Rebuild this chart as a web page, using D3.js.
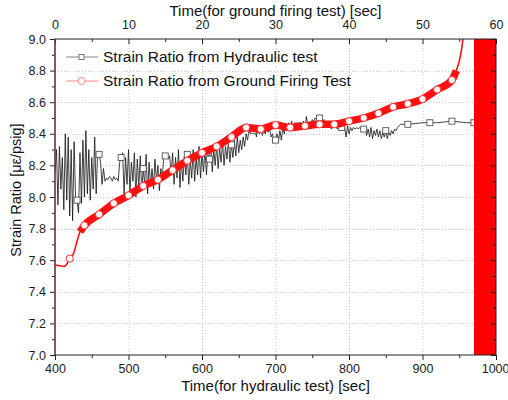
<!DOCTYPE html>
<html lang="en">
<head>
  <meta charset="UTF-8">
  <title>Strain Ratio</title>
  <script src="https://d3js.org/d3.v7.min.js"></script>
  <style>
    body { margin: 0; background: white; }
    svg { display: block; font-family: 'Liberation Sans', Arial, sans-serif; }
  </style>
</head>
<body>
  <div id="chart"></div>
  <script>
    // hydraulic test: noisy section sampled every 2 s from 400 s to 870 s
    const hydStart = 400, hydStep = 2;
    const hydNoisy = [
      8.15, 8.30, 7.95, 8.32, 8.05, 8.25, 7.92, 8.40, 7.98, 8.38,
      7.88, 8.30, 7.85, 8.35, 7.98, 7.98, 7.90, 8.28, 7.96, 8.36,
      8.00, 8.42, 8.02, 8.30, 7.98, 8.25, 8.05, 8.38, 8.02, 8.28,
      8.27, 8.22, 8.08, 8.18, 8.10, 8.12, 8.11, 8.13, 8.12, 8.10,
      8.13, 8.11, 8.12, 8.10, 8.22, 8.25, 8.28, 8.02, 8.25, 8.08,
      8.30, 8.03, 8.22, 8.10, 8.28, 8.00, 8.24, 8.06, 8.26, 8.04,
      8.18, 8.08, 8.27, 8.02, 8.22, 8.07, 8.18, 8.05, 8.24, 8.10,
      8.20, 8.04, 8.18, 8.12, 8.26, 8.26, 8.27, 8.24, 8.26, 8.14,
      8.28, 8.08, 8.25, 8.12, 8.30, 8.06, 8.22, 8.10, 8.26, 8.14,
      8.27, 8.08, 8.24, 8.12, 8.30, 8.10, 8.26, 8.14, 8.32, 8.12,
      8.28, 8.16, 8.30, 8.14, 8.27, 8.24, 8.32, 8.16, 8.30, 8.20,
      8.33, 8.18, 8.31, 8.22, 8.35, 8.20, 8.32, 8.24, 8.36, 8.22,
      8.33, 8.25, 8.36, 8.26, 8.38, 8.28, 8.36, 8.30, 8.38, 8.32,
      8.40, 8.36, 8.42, 8.40, 8.43, 8.42, 8.44, 8.38, 8.43, 8.40,
      8.44, 8.39, 8.42, 8.40, 8.44, 8.41, 8.43, 8.38, 8.40, 8.36,
      8.36, 8.40, 8.35, 8.42, 8.36, 8.44, 8.40, 8.46, 8.43, 8.47,
      8.44, 8.48, 8.43, 8.46, 8.44, 8.45, 8.44, 8.47, 8.45, 8.48,
      8.43, 8.51, 8.45, 8.47, 8.46, 8.49, 8.48, 8.50, 8.49, 8.50,
      8.50, 8.50, 8.46, 8.49, 8.45, 8.46, 8.44, 8.45, 8.43, 8.45,
      8.44, 8.45, 8.43, 8.44, 8.44, 8.44, 8.43, 8.44, 8.38, 8.45,
      8.40, 8.44, 8.42, 8.44, 8.43, 8.44, 8.43, 8.44, 8.43, 8.43,
      8.43, 8.44, 8.39, 8.43, 8.38, 8.44, 8.37, 8.42, 8.39, 8.43,
      8.38, 8.42, 8.37, 8.41, 8.38, 8.42, 8.37, 8.41, 8.39, 8.42,
      8.40, 8.43, 8.42, 8.44, 8.45, 8.46
    ];
    // hydraulic test: smooth tail
    const hydTailTime = [874, 880, 890, 900, 910, 920, 930, 940, 950, 960, 970];
    const hydTailVal  = [8.46, 8.46, 8.465, 8.47, 8.47, 8.47, 8.475, 8.48, 8.475, 8.47, 8.47];
    const hydMarkTime = [430, 460, 490, 520, 550, 580, 610, 640, 670, 700, 730, 760, 790, 820, 850, 880, 910, 940, 970];

    // ground firing test (time in ground-firing seconds)
    const gfTime = [0, 0.6, 1.2, 1.6, 2, 2.5, 3, 3.4, 4, 6, 8, 10, 12, 14, 16, 18, 20, 22, 24, 26, 28, 30,
                    32, 34, 36, 38, 40, 42, 44, 46, 48, 50, 52, 54, 54.6, 55.0, 55.3, 55.5, 55.6];
    const gfVal  = [7.57, 7.565, 7.56, 7.575, 7.61, 7.64, 7.72, 7.78, 7.82, 7.89, 7.96, 8.01, 8.07, 8.11, 8.17,
                    8.23, 8.28, 8.32, 8.38, 8.44, 8.43, 8.455, 8.44, 8.45, 8.46, 8.46, 8.48, 8.50, 8.53, 8.57,
                    8.59, 8.62, 8.68, 8.74, 8.80, 8.86, 8.93, 9.00, 9.05];
    const gfMarkTime = [2, 4, 6, 8, 10, 12, 14, 16, 18, 20, 22, 24, 26, 28, 30, 32, 34, 36, 38, 40, 42, 44, 46, 48, 50, 52, 54];
    const firingZone = [57, 60];

    const hydTicks = [400, 500, 600, 700, 800, 900, 1000];
    const hydMinor = [450, 550, 650, 750, 850, 950];
    const gfTicks = [0, 10, 20, 30, 40, 50, 60];
    const gfMinor = [5, 15, 25, 35, 45, 55];
    const ratioTicks = [7.0, 7.2, 7.4, 7.6, 7.8, 8.0, 8.2, 8.4, 8.6, 8.8, 9.0];
    const ratioMinor = [7.1, 7.3, 7.5, 7.7, 7.9, 8.1, 8.3, 8.5, 8.7, 8.9];

    const hydData = hydNoisy.map((v, i) => ({ t: hydStart + i * hydStep, v }))
      .concat(hydTailTime.map((t, i) => ({ t, v: hydTailVal[i] })));
    const gfData = gfTime.map((t, i) => ({ t, v: gfVal[i] }));

    const W = 508, H = 400;
    const mLeft = 55, mRight = 496, mTop = 39, mBottom = 355;

    const svg = d3.select("#chart").append("svg").attr("width", W).attr("height", H);
    svg.append("rect").attr("width", W).attr("height", H).attr("fill", "white");

    const xHyd = d3.scaleLinear().domain([400, 1000]).range([mLeft, mRight]);
    const xGf = d3.scaleLinear().domain([0, 60]).range([mLeft, mRight]);
    const y = d3.scaleLinear().domain([7.0, 9.0]).range([mBottom, mTop]);

    svg.append("clipPath").attr("id", "plotclip")
      .append("rect").attr("x", mLeft).attr("y", mTop).attr("width", mRight - mLeft).attr("height", mBottom - mTop);

    // grid
    const grid = svg.append("g").attr("stroke", "#c8c8c8").attr("stroke-width", 1).attr("stroke-dasharray", "1,2");
    hydTicks.slice(1, -1).forEach(t => {
      grid.append("line").attr("x1", xHyd(t) + 0.5).attr("x2", xHyd(t) + 0.5).attr("y1", mTop).attr("y2", mBottom);
    });
    ratioTicks.slice(1, -1).forEach(v => {
      grid.append("line").attr("x1", mLeft).attr("x2", mRight).attr("y1", Math.round(y(v)) + 0.5).attr("y2", Math.round(y(v)) + 0.5);
    });

    const plot = svg.append("g").attr("clip-path", "url(#plotclip)");

    // hydraulic series
    const lineHyd = d3.line().x(d => xHyd(d.t)).y(d => y(d.v));
    plot.append("path").datum(hydData)
      .attr("fill", "none").attr("stroke", "#111").attr("stroke-width", 0.8)
      .attr("d", lineHyd);
    plot.selectAll("rect.sq").data(hydMarkTime.map(t => hydData.find(d => d.t === t) || hydData[hydData.length - 1]))
      .enter().append("rect").attr("class", "sq")
      .attr("x", d => xHyd(d.t) - 3).attr("y", d => y(d.v) - 3)
      .attr("width", 6).attr("height", 6)
      .attr("fill", "white").attr("stroke", "#555").attr("stroke-width", 0.9);

    // ground firing series
    const lineGf = d3.line().x(d => xGf(d.t)).y(d => y(d.v)).curve(d3.curveMonotoneX);
    plot.append("path").datum(gfData)
      .attr("fill", "none").attr("stroke", "#ff1010").attr("stroke-width", 1.6)
      .attr("d", lineGf);
    plot.append("path").datum(gfData.filter(d => d.t >= 3.4 && d.t <= 54.6))
      .attr("fill", "none").attr("stroke", "#ff1010").attr("stroke-width", 7.5)
      .attr("stroke-linejoin", "round")
      .attr("d", lineGf);
    plot.selectAll("circle.gf").data(gfData.filter(d => gfMarkTime.includes(d.t)))
      .enter().append("circle").attr("class", "gf")
      .attr("cx", d => xGf(d.t)).attr("cy", d => y(d.v)).attr("r", 3.6)
      .attr("fill", "white").attr("stroke", "#ff3030").attr("stroke-width", 1);

    // firing zone
    svg.append("rect")
      .attr("x", xGf(firingZone[0])).attr("y", mTop)
      .attr("width", xGf(firingZone[1]) - xGf(firingZone[0])).attr("height", mBottom - mTop)
      .attr("fill", "#ff0000");

    // axes
    function styleAxis(g) {
      g.select(".domain").remove();
      g.selectAll("text").attr("font-size", 12.5).attr("fill", "#222")
        .attr("font-family", "'Liberation Sans', Arial, sans-serif");
      g.selectAll("line").attr("stroke", "#222");
    }
    const bottomAxis = svg.append("g").attr("transform", `translate(0,${mBottom})`)
      .call(d3.axisBottom(xHyd).tickValues(hydTicks).tickSize(5).tickPadding(4).tickFormat(d3.format("d"))).call(styleAxis);
    bottomAxis.selectAll("text").filter(d => d === 1000).attr("text-anchor", "end").attr("dx", 13);
    svg.append("g").attr("transform", `translate(0,${mBottom})`)
      .call(d3.axisBottom(xHyd).tickValues(hydMinor).tickSize(3).tickFormat("")).call(styleAxis);
    svg.append("g").attr("transform", `translate(0,${mTop})`)
      .call(d3.axisTop(xGf).tickValues(gfTicks).tickSize(-5).tickPadding(10).tickFormat(d3.format("d"))).call(styleAxis);
    svg.append("g").attr("transform", `translate(0,${mTop})`)
      .call(d3.axisTop(xGf).tickValues(gfMinor).tickSize(-3).tickFormat("")).call(styleAxis);
    svg.append("g").attr("transform", `translate(${mLeft},0)`)
      .call(d3.axisLeft(y).tickValues(ratioTicks).tickSize(5).tickPadding(4).tickFormat(d3.format(".1f"))).call(styleAxis);
    svg.append("g").attr("transform", `translate(${mLeft},0)`)
      .call(d3.axisLeft(y).tickValues(ratioMinor).tickSize(3).tickFormat("")).call(styleAxis);
    svg.append("g").attr("transform", `translate(${mRight},0)`)
      .call(d3.axisRight(y).tickValues(ratioTicks).tickSize(-5).tickFormat("")).call(styleAxis);
    svg.append("g").attr("transform", `translate(${mRight},0)`)
      .call(d3.axisRight(y).tickValues(ratioMinor).tickSize(-3).tickFormat("")).call(styleAxis);

    // frame
    svg.append("rect").attr("x", mLeft).attr("y", mTop).attr("width", mRight - mLeft).attr("height", mBottom - mTop)
      .attr("fill", "none").attr("stroke", "#222").attr("stroke-width", 1);
    svg.append("line").attr("x1", mLeft).attr("x2", mLeft).attr("y1", mTop).attr("y2", mBottom)
      .attr("stroke", "#8b3a3a").attr("stroke-width", 1.3);

    // axis titles
    svg.append("text").attr("x", (mLeft + mRight) / 2).attr("y", 16).attr("text-anchor", "middle")
      .attr("font-size", 15).attr("fill", "#111").text("Time(for ground firing test) [sec]");
    svg.append("text").attr("x", (mLeft + mRight) / 2).attr("y", 391).attr("text-anchor", "middle")
      .attr("font-size", 15).attr("fill", "#111").text("Time(for hydraulic test) [sec]");
    svg.append("text").attr("transform", "translate(21,190) rotate(-90)").attr("text-anchor", "middle")
      .attr("font-size", 14.5).attr("fill", "#111").text("Strain Ratio [\u03bc\u03b5/psig]");

    // legend
    const legend = svg.append("g");
    const lg1 = 57, lg2 = 81;
    legend.append("line").attr("x1", 66).attr("x2", 98).attr("y1", lg1).attr("y2", lg1).attr("stroke", "#999").attr("stroke-width", 1.2);
    legend.append("rect").attr("x", 79).attr("y", lg1 - 2.5).attr("width", 5).attr("height", 5)
      .attr("fill", "white").attr("stroke", "#777");
    legend.append("text").attr("x", 103).attr("y", lg1 + 5).attr("font-size", 15.5).attr("fill", "#111")
      .text("Strain Ratio from Hydraulic test");
    legend.append("line").attr("x1", 66).attr("x2", 98).attr("y1", lg2).attr("y2", lg2).attr("stroke", "#f99").attr("stroke-width", 1.2);
    legend.append("circle").attr("cx", 81.5).attr("cy", lg2).attr("r", 3.5)
      .attr("fill", "white").attr("stroke", "#f88");
    legend.append("text").attr("x", 103).attr("y", lg2 + 5).attr("font-size", 15.5).attr("fill", "#111")
      .text("Strain Ratio from Ground Firing Test");
  </script>
</body>
</html>
